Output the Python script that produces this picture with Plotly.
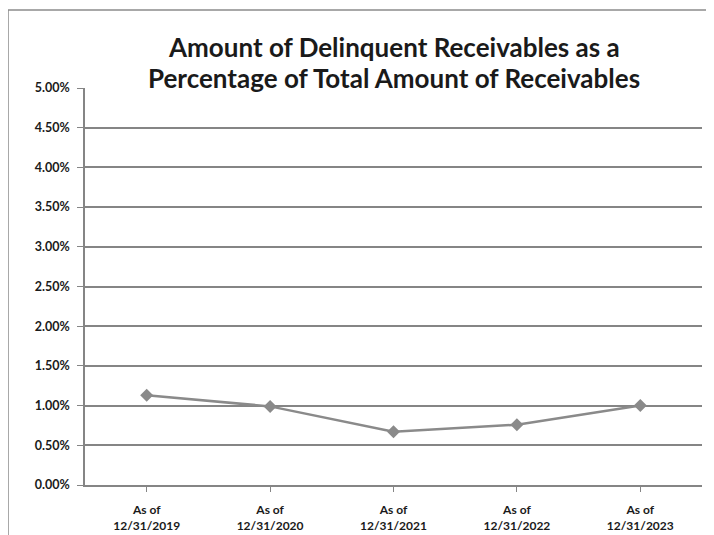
import plotly.graph_objects as go

categories = ["As of<br>12/31/2019", "As of<br>12/31/2020", "As of<br>12/31/2021",
              "As of<br>12/31/2022", "As of<br>12/31/2023"]
values = [0.0113, 0.0099, 0.0067, 0.0076, 0.0100]
y_ticks = [i * 0.005 for i in range(11)]
y_tick_labels = [f"{v*100:.2f}%" for v in y_ticks]
title_lines = ["Amount of Delinquent Receivables as a",
               "Percentage of Total Amount of Receivables"]

# page has an 8px body margin; figure sized to fit the window
OFF = 8
W, H = 714 - OFF, 535 - OFF
ml, mr, mt, mb = 85 - OFF, 12, 88 - OFF, 50
pw, ph = W - ml - mr, H - mt - mb

fig = go.Figure()
fig.add_trace(go.Scatter(
    x=categories, y=values, mode="lines+markers",
    line=dict(color="#8a8a8a", width=2.5),
    marker=dict(symbol="diamond", size=10, color="#8a8a8a"),
    showlegend=False,
))

font_family = "Lato, Open Sans, Liberation Sans, sans-serif"
fig.update_layout(
    width=W, height=H,
    margin=dict(l=ml, r=mr, t=mt, b=mb, autoexpand=False),
    paper_bgcolor="white", plot_bgcolor="white",
    font=dict(family=font_family, color="#1a1a1a"),
)
# title as two centred lines
for line_text, y_page in zip(title_lines, [47, 78]):
    fig.add_annotation(
        text="<b>" + line_text + "</b>", xref="paper", yref="paper",
        x=0.5, y=(mt + ph - (y_page - OFF)) / ph, xanchor="center", yanchor="middle",
        showarrow=False, font=dict(family=font_family, size=26, color="#1a1a1a"),
    )
fig.update_yaxes(
    range=[0, 0.05], tickvals=y_ticks, ticktext=["<b>" + t + "</b>" for t in y_tick_labels],
    showgrid=True, gridcolor="#858585", gridwidth=1.5,
    showline=True, linecolor="#858585", linewidth=1.5,
    ticks="outside", ticklen=6, tickcolor="#858585", ticklabelstandoff=5,
    tickfont=dict(size=12.5, family=font_family, color="#1a1a1a"),
    zeroline=False, fixedrange=True, automargin=False,
)
fig.update_xaxes(
    tickvals=categories, ticktext=["<b>" + c + "</b>" for c in categories],
    showgrid=False, showline=True, linecolor="#858585", linewidth=1.5,
    ticks="outside", ticklen=5, tickcolor="#858585", ticklabelstandoff=8,
    tickfont=dict(size=12, family=font_family, color="#1a1a1a"),
    range=[-0.5, 4.5], automargin=False,
)
# outer chart border
fig.add_shape(type="rect", xref="paper", yref="paper",
              x0=(8 - OFF - ml) / pw, x1=(W + 10 - ml) / pw,
              y0=-(H + 10 - mt - ph) / ph, y1=(mt + ph - (10 - OFF)) / ph,
              line=dict(color="#8c8c8c", width=1.5), fillcolor="rgba(0,0,0,0)", layer="below")

fig.write_html("out.html")
